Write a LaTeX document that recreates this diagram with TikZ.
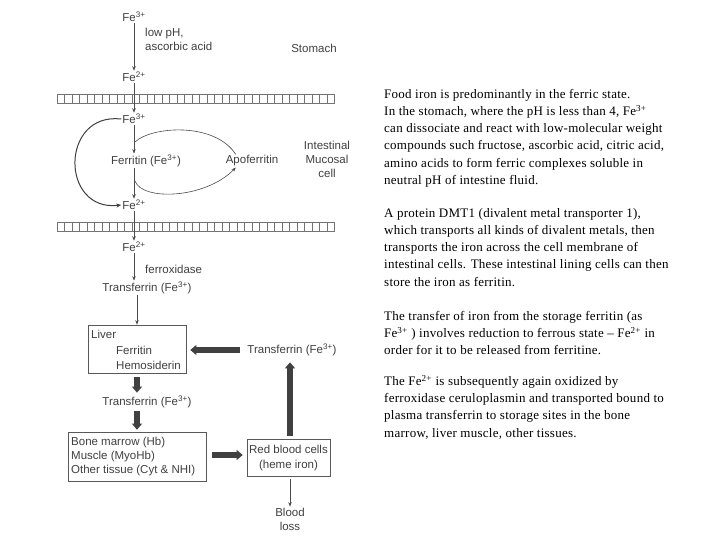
\documentclass[tikz,border=0pt]{standalone}
\usepackage{fontspec}
\setmainfont{Liberation Sans}
\newfontfamily\serifpara[LetterSpace=2]{Liberation Serif}
\usetikzlibrary{arrows.meta}
\begin{document}
\begin{tikzpicture}[x=1pt,y=-1pt,
  lbl/.style={font=\fontsize{11.5}{14}\selectfont, text=black!75, inner sep=1pt},
  thinarrow/.style={draw=black!70, line width=0.6pt, -{Stealth[length=4.5pt,width=3.5pt]}},
  thinline/.style={draw=black!70, line width=0.6pt},
  fatarrow/.style={draw=black!75, line width=6.5pt, -{Triangle[length=6pt,width=10pt]}},
  boxnode/.style={draw=black!65, line width=0.7pt, inner sep=0pt},
  membline/.style={draw=black!55, line width=0.5pt},
  para/.style={font=\serifpara\fontsize{13}{17.2}\selectfont, align=left, anchor=north west, inner sep=0pt, text=black}]
\useasboundingbox (0,0) rectangle (720,540);
\fill[white] (0,0) rectangle (720,540);

% membranes
\foreach \my in {94,222}{
  \draw[membline] (57,\my) -- (335,\my) (57,\my+9) -- (335,\my+9);
  \foreach \mx in {57,64.5,...,335} \draw[membline] (\mx,\my) -- (\mx,\my+9);
}

% stomach part
\node[lbl] (fe3a) at (134,17) {Fe\textsuperscript{3+}};
\node[lbl] (fe2a) at (134,77) {Fe\textsuperscript{2+}};
\node[lbl, align=left, anchor=north west] (cond) at (144,27) {low pH,\\ascorbic acid};
\node[lbl] (stomach) at (314,48) {Stomach};
\draw[thinarrow] (fe3a.south) -- (fe2a.north);

% intestinal mucosal cell
\node[lbl] (fe3b) at (134,119) {Fe\textsuperscript{3+}};
\node[lbl] (ferr) at (146,161) {Ferritin (Fe\textsuperscript{3+})};
\node[lbl] (apo) at (252,161) {Apoferritin};
\node[lbl, align=center] (cell) at (327,159) {Intestinal\\Mucosal\\cell};
\node[lbl] (fe2b) at (134,205) {Fe\textsuperscript{2+}};
\draw[thinarrow] (fe2a.south) -- (fe3b.north);
\draw[thinarrow] (fe3b.south) -- (fe3b.south |- ferr.north);
\draw[thinarrow] (fe2b.north |- ferr.south) -- (fe2b.north);
\coordinate (j1) at (135,142);
\coordinate (j2) at (135,181);
\draw[thinline] (apo.158) .. controls (215,122) and (152,126) .. (j1);
\draw[thinarrow] (j2) .. controls (142,201) and (205,199) .. (apo.202);
\draw[draw=black!75, line width=1pt, -{Stealth[length=5pt,width=4pt]}] (fe3b.west) .. controls (60,112) and (60,212) .. (fe2b.west);

% blood
\node[lbl] (fe2c) at (134,247) {Fe\textsuperscript{2+}};
\node[lbl, anchor=west] (ferrox) at (144,269) {ferroxidase};
\node[lbl] (tf1) at (147,288) {Transferrin (Fe\textsuperscript{3+})};
\draw[thinarrow] (fe2b.south) -- (fe2c.north);
\draw[thinarrow] (fe2c.south) -- (fe2c.south |- tf1.north);

% liver
\node[boxnode, minimum width=98pt, minimum height=48pt] (liver) at (137,349) {};
\node[lbl, anchor=west] (livert) at (90,334) {Liver};
\node[lbl, anchor=west] (ferrt) at (115,350) {Ferritin};
\node[lbl, anchor=west] (hemot) at (115,365) {Hemosiderin};
\draw[thinarrow] (tf1.south -| liver.north) -- (liver.north);

\node[lbl] (tf2) at (292,350) {Transferrin (Fe\textsuperscript{3+})};
\draw[fatarrow, shorten <=6pt, shorten >=4pt] (tf2.west) -- (tf2.west -| liver.east);

\node[lbl] (tf3) at (147,402) {Transferrin (Fe\textsuperscript{3+})};
\draw[fatarrow, shorten <=4pt, shorten >=2pt] (liver.south) -- (liver.south |- tf3.north);

% tissues
\node[boxnode, minimum width=138pt, minimum height=49pt] (bone) at (137,456.5) {};
\node[lbl, anchor=west] (bonet) at (70,443) {Bone marrow (Hb)};
\node[lbl, anchor=west] (musclet) at (70,457) {Muscle (MyoHb)};
\node[lbl, anchor=west] (othert) at (70,471) {Other tissue (Cyt \& NHI)};
\draw[fatarrow, shorten <=2pt, shorten >=2pt] (tf3.south -| bone.north) -- (bone.north);

% red blood cells
\node[boxnode, minimum width=83pt, minimum height=37pt] (rbc) at (288.5,458) {};
\node[lbl] (rbct1) at (288.5,449) {Red blood cells};
\node[lbl] (rbct2) at (288.5,466) {(heme iron)};
\draw[fatarrow, shorten <=6pt, shorten >=4pt] (bone.east |- 0,455) -- (rbc.west |- 0,455);
\draw[fatarrow, shorten <=3pt, shorten >=5pt] (rbc.north -| 290,0) -- (tf2.south -| 290,0);

\node[lbl, align=center] (blood) at (290,519) {Blood\\loss};
\draw[thinarrow, shorten <=2pt] (rbc.south -| 290,0) -- (blood.north -| 290,0);

% explanatory text
\node[para] (p1) at (384,89) {Food iron is predominantly in the ferric state.\\
In the stomach, where the pH is less than 4, Fe\textsuperscript{3+}\\
can dissociate and react with low-molecular weight\\
compounds such fructose, ascorbic acid, citric acid,\\
amino acids to form ferric complexes soluble in\\
neutral pH of intestine fluid.};
\node[para] (p2) at (384,208) {A protein DMT1 (divalent metal transporter 1),\\
which transports all kinds of divalent metals, then\\
transports the iron across the cell membrane of\\
intestinal cells.  These intestinal lining cells can then\\
store the iron as ferritin.};
\node[para] (p3) at (384,311) {The transfer of iron from the storage ferritin  (as\\
Fe\textsuperscript{3+} ) involves reduction to ferrous state – Fe\textsuperscript{2+} in\\
order for it to be released from ferritine.};
\node[para] (p4) at (384,375) {The Fe\textsuperscript{2+} is subsequently again oxidized by\\
ferroxidase ceruloplasmin and transported bound to\\
plasma transferrin to storage sites in the bone\\
marrow, liver muscle, other tissues.};
\end{tikzpicture}
\end{document}
